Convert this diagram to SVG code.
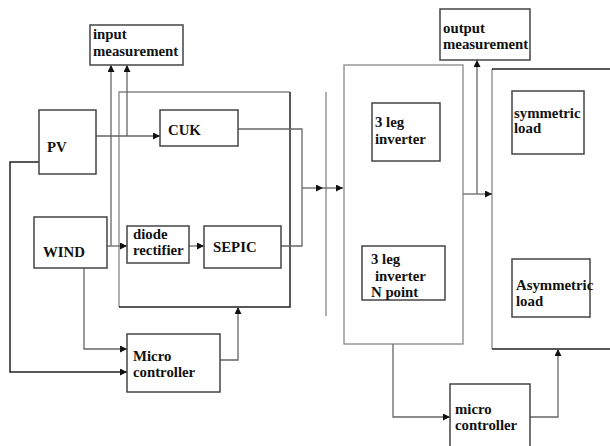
<svg xmlns="http://www.w3.org/2000/svg" width="610" height="446" viewBox="0 0 610 446">
<defs>
<marker id="ah" viewBox="0 0 10 10" refX="10" refY="5" markerWidth="7" markerHeight="7" markerUnits="userSpaceOnUse" orient="auto">
<path d="M0,0 L10,5 L0,10 z" fill="#111"/>
</marker>
<style>
.b{fill:#fff;stroke:#444;stroke-width:1.5}
.g{fill:none;stroke:#888;stroke-width:1.3}
.k{fill:none;stroke:#222;stroke-width:1.5}
.c{fill:none;stroke:#666;stroke-width:1.3}
.a{marker-end:url(#ah)}
text{font-family:"Liberation Serif","Times New Roman",serif;font-weight:bold;font-size:14.8px;fill:#111}
</style>
</defs>
<rect width="610" height="446" fill="#fff"/>

<g id="containers">
<path class="g" d="M119,307 V92 H290"/>
<path class="k" d="M290,92 V307 H119"/>
<line class="g" x1="326" y1="92" x2="326" y2="316"/>
<rect class="g" x="344" y="65" width="119" height="279"/>
<path class="g" d="M492,349 V69"/>
<path class="k" d="M492,69 H612 M492,349 H612"/>
</g>

<g id="connectors">
<path class="c a" d="M127,136 V65"/>
<path class="c a" d="M111,246 V65"/>
<path class="c a" d="M96,136 H160"/>
<path class="c" d="M238,129 H302 V246 H281"/>
<path class="c a" d="M302,188 H323"/>
<path class="c a" d="M323,188 H343"/>
<path class="c a" d="M107,246 H127"/>
<path class="c a" d="M189,246 H204"/>
<path class="c a" d="M84,268 V349 H127"/>
<path class="k a" d="M39,162 H10 V372 H127"/>
<path class="c a" d="M220,360 H238 V307"/>
<path class="c a" d="M463,194 H492"/>
<path class="c a" d="M477,194 V60"/>
<path class="c a" d="M393,344 V417 H450"/>
<path class="c a" d="M530,417 H558 V349"/>
</g>

<g id="input-measurement">
<rect class="b" x="90" y="25" width="93" height="40"/>
<text x="93" y="39">input</text>
<text x="93" y="56">measurement</text>
</g>

<g id="pv">
<rect class="b" x="39" y="110" width="57" height="64"/>
<text x="47" y="152">PV</text>
</g>

<g id="cuk">
<rect class="b" x="160" y="110" width="78" height="36"/>
<text x="168" y="135">CUK</text>
</g>

<g id="wind">
<rect class="b" x="34" y="217" width="73" height="51"/>
<text x="43" y="257">WIND</text>
</g>

<g id="diode-rectifier">
<rect class="b" x="127" y="226" width="62" height="37"/>
<text x="133" y="239">diode</text>
<text x="133" y="255">rectifier</text>
</g>

<g id="sepic">
<rect class="b" x="204" y="226" width="77" height="42"/>
<text x="213" y="252">SEPIC</text>
</g>

<g id="micro-controller-left">
<rect class="b" x="127" y="334" width="93" height="58"/>
<text x="133" y="361">Micro</text>
<text x="133" y="377">controller</text>
</g>

<g id="inverter-3leg">
<rect class="b" x="372" y="103" width="68" height="58"/>
<text x="375" y="127">3 leg</text>
<text x="375" y="144">inverter</text>
</g>

<g id="inverter-npoint">
<rect class="b" x="362" y="246" width="83" height="54"/>
<text x="371" y="264">3 leg</text>
<text x="375" y="281">inverter</text>
<text x="371" y="297">N point</text>
</g>

<g id="output-measurement">
<rect class="b" x="440" y="9" width="90" height="51"/>
<text x="443" y="33">output</text>
<text x="443" y="49">measurement</text>
</g>

<g id="symmetric-load">
<rect class="b" x="512" y="91" width="72" height="63"/>
<text x="514" y="118">symmetric</text>
<text x="514" y="133">load</text>
</g>

<g id="asymmetric-load">
<rect class="b" x="512" y="259" width="78" height="58"/>
<text x="516" y="290">Asymmetric</text>
<text x="516" y="306">load</text>
</g>

<g id="micro-controller-right">
<rect class="b" x="450" y="384" width="80" height="64"/>
<text x="455" y="414">micro</text>
<text x="455" y="430">controller</text>
</g>
</svg>
